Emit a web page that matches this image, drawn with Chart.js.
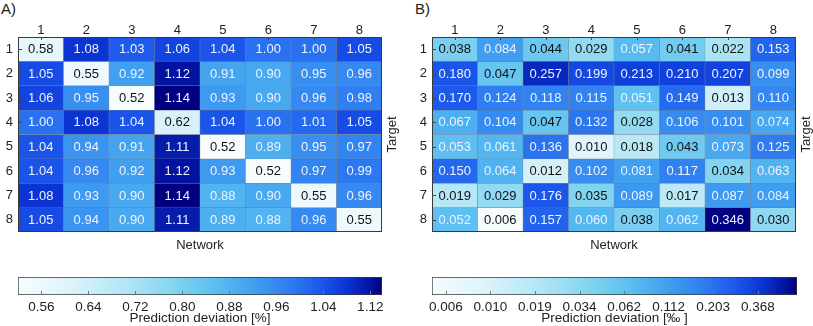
<!DOCTYPE html>
<html>
<head>
<meta charset="utf-8">
<script src="https://cdn.jsdelivr.net/npm/chart.js@4.4.1/dist/chart.umd.min.js"></script>
<style>
  html, body { margin: 0; padding: 0; background: #ffffff; }
  #wrap { position: relative; width: 813px; height: 326px; overflow: hidden; background: #fff; }
  canvas { position: absolute; }
  .plabel { position: absolute; font-family: 'Liberation Sans', Arial, sans-serif; font-size: 15px; color: #222; }
</style>
</head>
<body>
<div id="wrap">
  <div class="plabel" style="left:1px; top:0px;">A)</div>
  <div class="plabel" style="left:415px; top:0px;">B)</div>
  <canvas id="heatA" width="406" height="255" style="left:0px; top:0px;"></canvas>
  <canvas id="heatB" width="407" height="255" style="left:406px; top:0px;"></canvas>
  <canvas id="cbA" width="406" height="71" style="left:0px; top:255px;"></canvas>
  <canvas id="cbB" width="407" height="71" style="left:406px; top:255px;"></canvas>
</div>
<script>
// ---------------- data ----------------
const networkLabels = ['1', '2', '3', '4', '5', '6', '7', '8'];
const targetLabels  = ['1', '2', '3', '4', '5', '6', '7', '8'];

// Panel A: prediction deviation [%], rows = Target, columns = Network
const deviationA = [
  [0.58, 1.08, 1.03, 1.06, 1.04, 1.00, 1.00, 1.05],
  [1.05, 0.55, 0.92, 1.12, 0.91, 0.90, 0.95, 0.96],
  [1.06, 0.95, 0.52, 1.14, 0.93, 0.90, 0.96, 0.98],
  [1.00, 1.08, 1.04, 0.62, 1.04, 1.00, 1.01, 1.05],
  [1.04, 0.94, 0.91, 1.11, 0.52, 0.89, 0.95, 0.97],
  [1.04, 0.96, 0.92, 1.12, 0.93, 0.52, 0.97, 0.99],
  [1.08, 0.93, 0.90, 1.14, 0.88, 0.90, 0.55, 0.96],
  [1.05, 0.94, 0.90, 1.11, 0.89, 0.88, 0.96, 0.55]
];

// Panel B: prediction deviation [‰], rows = Target, columns = Network
const deviationB = [
  [0.038, 0.084, 0.044, 0.029, 0.057, 0.041, 0.022, 0.153],
  [0.180, 0.047, 0.257, 0.199, 0.213, 0.210, 0.207, 0.099],
  [0.170, 0.124, 0.118, 0.115, 0.051, 0.149, 0.013, 0.110],
  [0.067, 0.104, 0.047, 0.132, 0.028, 0.106, 0.101, 0.074],
  [0.053, 0.061, 0.136, 0.010, 0.018, 0.043, 0.073, 0.125],
  [0.150, 0.064, 0.012, 0.102, 0.081, 0.117, 0.034, 0.063],
  [0.019, 0.029, 0.176, 0.035, 0.089, 0.017, 0.087, 0.084],
  [0.052, 0.006, 0.157, 0.060, 0.038, 0.062, 0.346, 0.030]
];

// colour-bar tick labels
const cbTicksA = ['0.56', '0.64', '0.72', '0.80', '0.88', '0.96', '1.04', '1.12'];
const cbTicksB = ['0.006', '0.010', '0.019', '0.034', '0.062', '0.112', '0.203', '0.368'];

// ---------------- colour map ----------------
const cmapStops = [
  [0.00, '#f7fcff'], [0.15, '#dcf2fb'], [0.30, '#b0e6f5'], [0.42, '#86d6f0'],
  [0.55, '#58bdf0'], [0.65, '#409df0'], [0.75, '#2e7cf0'], [0.83, '#1c58ec'],
  [0.90, '#0c36d6'], [0.96, '#0418a6'], [1.00, '#000080']
];
function hexRgb(h) { return [parseInt(h.substr(1,2),16), parseInt(h.substr(3,2),16), parseInt(h.substr(5,2),16)]; }
function cmap(t) {
  t = Math.max(0, Math.min(1, t));
  for (let i = 1; i < cmapStops.length; i++) {
    if (t <= cmapStops[i][0]) {
      const [t0, c0] = cmapStops[i-1], [t1, c1] = cmapStops[i];
      const f = (t - t0) / (t1 - t0);
      const a = hexRgb(c0), b = hexRgb(c1);
      return 'rgb(' + a.map((v, k) => Math.round(v + (b[k] - v) * f)).join(',') + ')';
    }
  }
  return cmapStops[cmapStops.length-1][1];
}

const FONT = "'Liberation Sans', Arial, sans-serif";
Chart.defaults.font.family = FONT;
Chart.defaults.font.size = 13;
Chart.defaults.color = '#222';

// ---------------- heatmap plugin ----------------
const heatPlugin = {
  id: 'heatDecor',
  afterDatasetsDraw(chart, args, opts) {
    const ctx = chart.ctx;
    const a = chart.chartArea;
    ctx.save();
    ctx.font = '13px ' + FONT;
    ctx.textAlign = 'center';
    ctx.textBaseline = 'middle';
    chart.data.datasets.forEach((ds, di) => {
      const meta = chart.getDatasetMeta(di);
      meta.data.forEach((el, i) => {
        ctx.fillStyle = ds.normVals[i] < 0.52 ? '#111111' : '#eef3ff';
        ctx.fillText(ds.values[i].toFixed(opts.decimals), el.x, (el.y + el.base) / 2 + 0.5);
      });
    });
    // frame
    ctx.strokeStyle = '#3a3a3a';
    ctx.lineWidth = 1;
    ctx.strokeRect(Math.round(a.left) + 0.5, Math.round(a.top) + 0.5, Math.round(a.width) - 1, Math.round(a.height) - 1);
    // small inward tick marks
    ctx.strokeStyle = '#444';
    const xs = chart.scales.x, ys = chart.scales.y;
    xs.ticks.forEach((t, i) => {
      const px = Math.round(xs.getPixelForTick(i)) + 0.5;
      ctx.beginPath(); ctx.moveTo(px, a.top); ctx.lineTo(px, a.top + 3); ctx.stroke();
    });
    ys.ticks.forEach((t, i) => {
      const py = Math.round(ys.getPixelForValue(t.value)) + 0.5;
      ctx.beginPath(); ctx.moveTo(a.left, py); ctx.lineTo(a.left + 4, py); ctx.stroke();
    });
    // rotated right-hand title
    ctx.translate(a.right + 10, (a.top + a.bottom) / 2);
    ctx.rotate(-Math.PI / 2);
    ctx.fillStyle = '#222';
    ctx.font = '13px ' + FONT;
    ctx.fillText(opts.rightTitle, 0, 0);
    ctx.restore();
  }
};

function makeHeatmap(canvasId, values, decimals, useLog, yAxisWidth, padRight) {
  const flat = values.flat();
  const tr = useLog ? Math.log : (v) => v;
  const lo = tr(Math.min(...flat)), hi = tr(Math.max(...flat));
  const datasets = targetLabels.map((t, r) => {
    const normVals = values[r].map(v => (tr(v) - lo) / (hi - lo));
    return {
      label: 'Target ' + t,
      data: networkLabels.map(() => 1),
      values: values[r],
      normVals: normVals,
      backgroundColor: normVals.map(n => cmap(n)),
      borderColor: 'rgba(45,65,95,0.55)',
      borderWidth: 0.5,
      borderSkipped: false,
      barPercentage: 1,
      categoryPercentage: 1,
      stack: 'rows'
    };
  });
  return new Chart(document.getElementById(canvasId), {
    type: 'bar',
    data: { labels: networkLabels, datasets },
    options: {
      responsive: false,
      animation: false,
      devicePixelRatio: 1,
      layout: { padding: { left: 0, right: padRight, top: 0, bottom: 2 } },
      plugins: {
        legend: { display: false },
        tooltip: { enabled: false },
        heatDecor: { decimals: decimals, rightTitle: 'Target' }
      },
      scales: {
        x: {
          position: 'top', stacked: true,
          grid: { display: false, drawTicks: false, tickLength: 0 },
          border: { display: false },
          ticks: { padding: -1, color: '#222', font: { size: 13 } },
          afterFit: s => { s.height = 37; }
        },
        x2: {
          position: 'bottom', type: 'category', labels: networkLabels,
          grid: { display: false, drawTicks: false, tickLength: 0 },
          border: { display: false },
          ticks: { display: false },
          title: { display: true, text: 'Network', color: '#222', font: { size: 13 }, padding: { top: 0, bottom: 0 } },
          afterFit: s => { s.height = 21; }
        },
        y: {
          type: 'linear', reverse: true, stacked: true, min: 0, max: targetLabels.length,
          grid: { display: false, drawTicks: false, tickLength: 0 },
          border: { display: false },
          afterBuildTicks: s => { s.ticks = targetLabels.map((t, i) => ({ value: i + 0.5 })); },
          ticks: { padding: 5, color: '#222', font: { size: 13 }, callback: (v, i) => targetLabels[i] },
          afterFit: s => { s.width = yAxisWidth; }
        }
      }
    },
    plugins: [heatPlugin]
  });
}

makeHeatmap('heatA', deviationA, 2, false, 18, 24);
makeHeatmap('heatB', deviationB, 3, true, 26, 17);

// ---------------- colour bars ----------------
const cbPlugin = {
  id: 'cbTicks',
  afterDatasetsDraw(chart) {
    const ctx = chart.ctx, a = chart.chartArea, xs = chart.scales.x;
    ctx.save();
    ctx.strokeStyle = '#777';
    ctx.lineWidth = 1;
    xs.ticks.forEach((t, i) => {
      const px = Math.round(xs.getPixelForValue(t.value)) + 0.5;
      ctx.beginPath(); ctx.moveTo(px, a.bottom - 1); ctx.lineTo(px, a.bottom - 4); ctx.stroke();
    });
    ctx.restore();
  }
};

function makeColorbar(canvasId, tickLabels, tickValues, lo, hi, title, padLeft, padRight) {
  return new Chart(document.getElementById(canvasId), {
    type: 'bar',
    data: {
      labels: [''],
      datasets: [{
        data: [[lo, hi]],
        backgroundColor: (c) => {
          const a = c.chart.chartArea;
          if (!a) return '#ccc';
          const g = c.chart.ctx.createLinearGradient(a.left, 0, a.right, 0);
          cmapStops.forEach(([t, col]) => g.addColorStop(t, col));
          return g;
        },
        borderColor: '#3a3a3a',
        borderWidth: 1,
        borderSkipped: false,
        barPercentage: 1,
        categoryPercentage: 1
      }]
    },
    options: {
      indexAxis: 'y',
      responsive: false,
      animation: false,
      devicePixelRatio: 1,
      layout: { padding: { left: padLeft, right: padRight, top: 22, bottom: 0 } },
      plugins: { legend: { display: false }, tooltip: { enabled: false } },
      scales: {
        y: { display: false },
        x: {
          type: 'linear', min: lo, max: hi,
          grid: { display: false, drawTicks: false, tickLength: 0 },
          border: { display: false },
          afterBuildTicks: s => { s.ticks = tickValues.map(v => ({ value: v })); },
          ticks: { padding: 4, color: '#222', font: { size: 13.5 }, maxRotation: 0, autoSkip: false,
                   callback: (v, i) => tickLabels[i] },
          title: { display: true, text: title, color: '#222', font: { size: 13.5 }, padding: { top: 0, bottom: 0 } },
          afterFit: s => { s.height = 31; }
        }
      }
    },
    plugins: [cbPlugin]
  });
}

// A: linear colour bar spanning the data range
const flatA = deviationA.flat();
const cbValuesA = cbTicksA.map(Number);
makeColorbar('cbA', cbTicksA, cbValuesA, Math.min(...flatA), Math.max(...flatA),
             'Prediction deviation [%]', 18, 24);

// B: logarithmic colour bar, ticks evenly spaced in tick-index units
const cbValuesB = cbTicksB.map((t, i) => i);
makeColorbar('cbB', cbTicksB, cbValuesB, -0.31, 7.88,
             'Prediction deviation [‰ ]', 26, 16);
</script>
</body>
</html>
